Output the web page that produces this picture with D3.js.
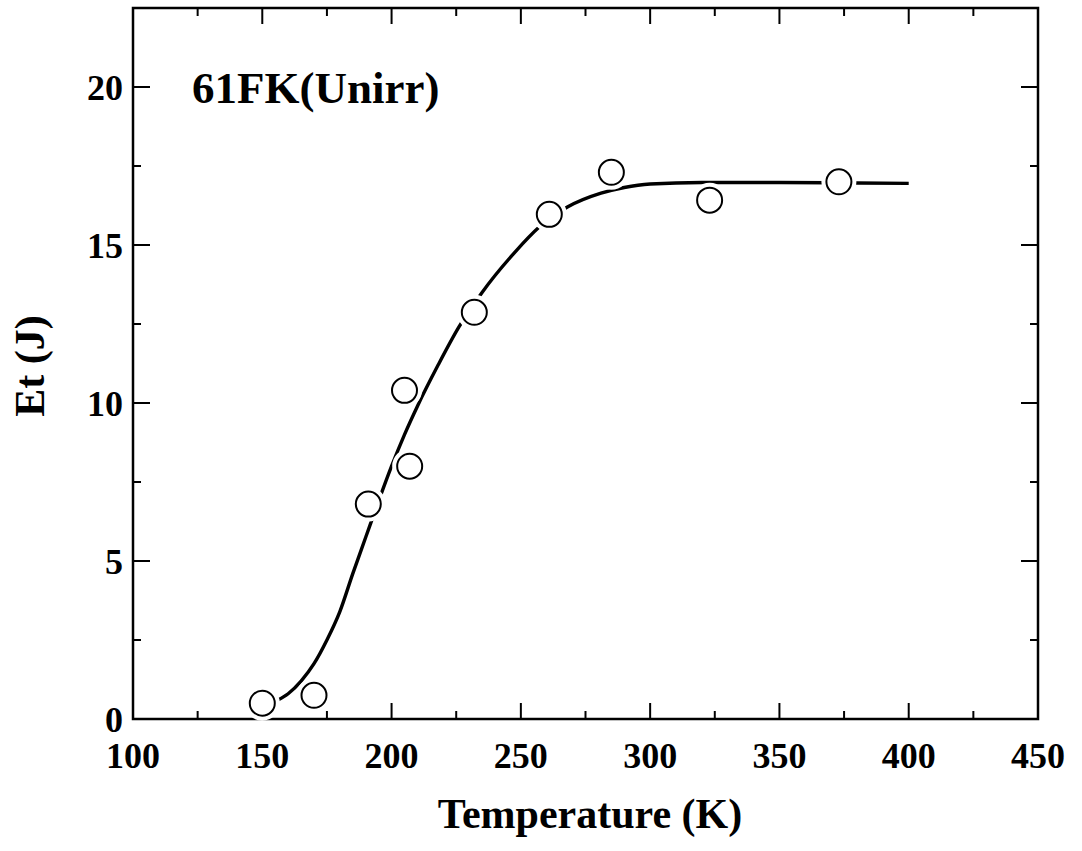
<!DOCTYPE html>
<html>
<head>
<meta charset="utf-8">
<script src="https://cdn.jsdelivr.net/npm/d3@7"></script>
<style>
  body { margin: 0; background: #fff; }
  text { font-family: "Liberation Serif", "Times New Roman", serif; font-weight: bold; fill: #000; }
</style>
</head>
<body>
<div id="chart"></div>
<script>
// Measured points
const tempK = [150, 170, 191, 205, 207, 232, 261, 285, 323, 373];
const energyJ = [0.5, 0.75, 6.8, 10.4, 8.0, 12.87, 15.97, 17.3, 16.42, 17.0];

// Fitted curve
const curveT = [156, 160, 165, 170, 175, 180, 185, 190, 195, 200, 205, 210, 218, 226, 235, 248, 257, 268, 281, 290, 300, 320, 350, 380, 400];
const curveE = [0.6, 0.8, 1.2, 1.75, 2.5, 3.4, 4.6, 5.75, 6.9, 8.0, 9.0, 9.9, 11.2, 12.4, 13.5, 14.8, 15.56, 16.2, 16.64, 16.82, 16.93, 16.98, 16.98, 16.96, 16.95];

const xTicks = [100, 150, 200, 250, 300, 350, 400, 450];
const yTicks = [0, 5, 10, 15, 20];
const label = "61FK(Unirr)";

const w = 1082, h = 851;
const margin = { top: 8, right: 44, bottom: 132, left: 133 };

const svg = d3.select("#chart").append("svg")
    .attr("width", w)
    .attr("height", h);

const x = d3.scaleLinear()
    .domain([100, 450])
    .range([margin.left, w - margin.right]);

const y = d3.scaleLinear()
    .domain([0, 22.5])
    .range([h - margin.bottom, margin.top]);

const x0 = x.range()[0], x1 = x.range()[1];
const y0 = y.range()[0], y1 = y.range()[1];

const xMinor = d3.range(125, 450, 50);
const yMinor = d3.range(2.5, 22.5, 5);

// Ticks (inward, all four sides)
const tickG = svg.append("g").attr("stroke", "#000").attr("stroke-width", 2);
xTicks.concat(xMinor).forEach(t => {
    const len = xTicks.includes(t) ? 16 : 8;
    tickG.append("line").attr("x1", x(t)).attr("x2", x(t)).attr("y1", y0).attr("y2", y0 - len);
    tickG.append("line").attr("x1", x(t)).attr("x2", x(t)).attr("y1", y1).attr("y2", y1 + len);
});
yTicks.concat(yMinor).forEach(t => {
    const len = yTicks.includes(t) ? 17 : 8;
    tickG.append("line").attr("y1", y(t)).attr("y2", y(t)).attr("x1", x0).attr("x2", x0 + len);
    tickG.append("line").attr("y1", y(t)).attr("y2", y(t)).attr("x1", x1).attr("x2", x1 - len);
});

// Frame
svg.append("rect")
    .attr("x", x0).attr("y", y1)
    .attr("width", x1 - x0).attr("height", y0 - y1)
    .attr("fill", "none")
    .attr("stroke", "#000")
    .attr("stroke-width", 2.5);

// Tick labels
svg.append("g").selectAll("text")
    .data(xTicks)
    .enter()
    .append("text")
    .attr("x", d => x(d))
    .attr("y", 768)
    .attr("text-anchor", "middle")
    .attr("font-size", 36)
    .text(d => d);

svg.append("g").selectAll("text")
    .data(yTicks)
    .enter()
    .append("text")
    .attr("x", 123)
    .attr("y", d => y(d))
    .attr("dy", "0.35em")
    .attr("text-anchor", "end")
    .attr("font-size", 36)
    .text(d => d);

// Axis titles
svg.append("text")
    .attr("x", 590)
    .attr("y", 828)
    .attr("text-anchor", "middle")
    .attr("font-size", 42)
    .text("Temperature (K)");

svg.append("text")
    .attr("transform", "translate(44,366) rotate(-90)")
    .attr("text-anchor", "middle")
    .attr("font-size", 42)
    .text("Et (J)");

// Sample label
svg.append("text")
    .attr("x", 192)
    .attr("y", 103)
    .attr("font-size", 45)
    .text(label);

// Curve
const curveData = curveT.map((t, i) => ({ t: t, e: curveE[i] }));
svg.append("path")
    .datum(curveData)
    .attr("fill", "none")
    .attr("stroke", "#000")
    .attr("stroke-width", 3.4)
    .attr("d", d3.line().x(d => x(d.t)).y(d => y(d.e)).curve(d3.curveMonotoneX));

// Points (white halo breaks the curve)
const pts = tempK.map((t, i) => ({ t: t, e: energyJ[i] }));
svg.append("g").selectAll("circle.halo")
    .data(pts)
    .enter()
    .append("circle")
    .attr("cx", d => x(d.t))
    .attr("cy", d => y(d.e))
    .attr("r", 12.5)
    .attr("fill", "#fff")
    .attr("stroke", "#fff")
    .attr("stroke-width", 10);

svg.append("g").selectAll("circle.pt")
    .data(pts)
    .enter()
    .append("circle")
    .attr("cx", d => x(d.t))
    .attr("cy", d => y(d.e))
    .attr("r", 12.5)
    .attr("fill", "#fff")
    .attr("stroke", "#000")
    .attr("stroke-width", 2);
</script>
</body>
</html>
